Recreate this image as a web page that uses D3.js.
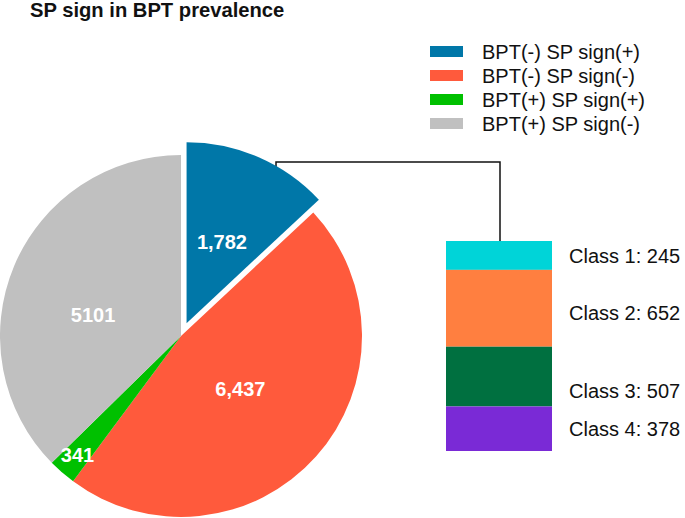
<!DOCTYPE html>
<html>
<head>
<meta charset="utf-8">
<script src="https://cdn.jsdelivr.net/npm/d3@7"></script>
<style>
  html, body { margin: 0; padding: 0; background: #fff; }
  svg { display: block; font-family: "Liberation Sans", Arial, Helvetica, sans-serif; }
</style>
</head>
<body>
<svg id="chart" width="685" height="518"></svg>
<script>
// ---- data ----
const title = "SP sign in BPT prevalence";
const pieCategories = ["BPT(-) SP sign(+)", "BPT(-) SP sign(-)", "BPT(+) SP sign(+)", "BPT(+) SP sign(-)"];
const pieValues = [1782, 6437, 341, 5101];
const pieLabels = ["1,782", "6,437", "341", "5101"];
const pieColors = ["#0077a8", "#ff5a3c", "#00c000", "#c0c0c0"];

const classCategories = ["Class 1", "Class 2", "Class 3", "Class 4"];
const classValues = [245, 652, 507, 378];
const classColors = ["#00d4d8", "#ff7f40", "#007040", "#7a2ad6"];

// ---- layout / style ----
const cx = 181, cy = 336, R = 181;
const explode = [14, 0, 0, 0];
const labelRadiusFrac = [0.49, 0.44, 0.87, 0.5];
const labelAngleShift = [0, 0, 0, -9];
const classLabelShift = [0, 5, 14, 0];

const svg = d3.select("#chart");

svg.append("text")
  .attr("x", 30).attr("y", 17)
  .attr("font-size", 20.2).attr("font-weight", "bold")
  .attr("fill", "#111")
  .text(title);

// connector line (behind pie)
const barX = 446, barW = 106, barTop = 241, barBottom = 451;
const yScale = d3.scaleLinear().domain([0, d3.sum(classValues)]).range([barTop, barBottom]);
svg.append("path")
  .attr("d", d3.line()([[276, 185], [276, 162], [500, 162], [500, barTop]]))
  .attr("fill", "none").attr("stroke", "#111").attr("stroke-width", 1.5);

// pie
const pie = d3.pie().sort(null).value(d => d)(pieValues);
const arc = d3.arc().innerRadius(0).outerRadius(R);
const g = svg.append("g").attr("transform", `translate(${cx},${cy})`);

pie.forEach((d, i) => {
  const mid = (d.startAngle + d.endAngle) / 2;
  const ox = Math.sin(mid) * explode[i], oy = -Math.cos(mid) * explode[i];
  const sg = g.append("g").attr("transform", `translate(${ox},${oy})`);
  sg.append("path").attr("d", arc(d)).attr("fill", pieColors[i]);
});
pie.forEach((d, i) => {
  const mid = (d.startAngle + d.endAngle) / 2;
  const ox = Math.sin(mid) * explode[i], oy = -Math.cos(mid) * explode[i];
  const la = mid + labelAngleShift[i] * Math.PI / 180;
  const lr = R * labelRadiusFrac[i];
  g.append("text")
    .attr("x", ox + Math.sin(la) * lr)
    .attr("y", oy - Math.cos(la) * lr)
    .attr("dy", "0.36em")
    .attr("text-anchor", "middle")
    .attr("font-size", 20).attr("font-weight", "bold")
    .attr("fill", "#fff")
    .text(pieLabels[i]);
});

// legend
const legend = svg.append("g");
pieCategories.forEach((c, i) => {
  const y = 46 + i * 24;
  legend.append("rect").attr("x", 430).attr("y", y).attr("width", 33).attr("height", 11).attr("fill", pieColors[i]);
  legend.append("text").attr("x", 482).attr("y", y + 12.5)
    .attr("font-size", 20).attr("fill", "#111").text(c);
});

// stacked bar
let cum = 0;
classValues.forEach((v, i) => {
  const y0 = yScale(cum), y1 = yScale(cum + v);
  cum += v;
  svg.append("rect").attr("x", barX).attr("y", y0).attr("width", barW).attr("height", y1 - y0)
    .attr("fill", classColors[i]);
  svg.append("text").attr("x", 569).attr("y", (y0 + y1) / 2 + classLabelShift[i])
    .attr("dy", "0.36em")
    .attr("font-size", 20).attr("fill", "#111")
    .text(`${classCategories[i]}: ${v}`);
});
</script>
</body>
</html>
